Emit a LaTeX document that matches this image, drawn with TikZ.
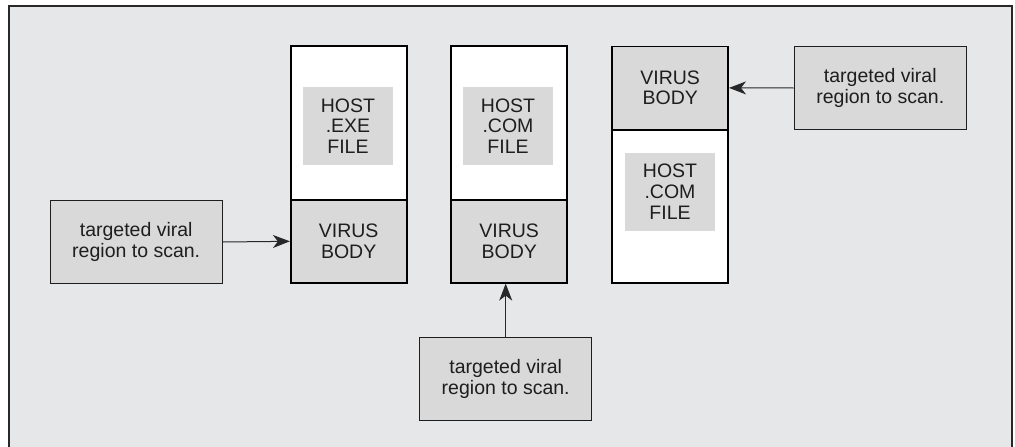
\documentclass[tikz,border=0pt]{standalone}
\usepackage{fontspec}
\setmainfont{Liberation Sans}
\usetikzlibrary{arrows.meta}
\begin{document}
\begin{tikzpicture}[x=1pt,y=-1pt]
    % Node styles
    \tikzstyle{none}=[inner sep=0mm]
    \tikzstyle{label text}=[font=\fontsize{19.5}{20.7}\selectfont, text={rgb,255: red,30; green,30; blue,30}, align=center, inner sep=0mm]
    \tikzstyle{scan box}=[label text, fill={rgb,255: red,217; green,217; blue,217}, draw={rgb,255: red,30; green,30; blue,30}, line width=1.3pt, shape=rectangle, minimum width=172pt, minimum height=83pt]
    \tikzstyle{body box}=[label text, fill={rgb,255: red,217; green,217; blue,217}, draw=black, line width=1.6pt, shape=rectangle, minimum width=116pt, minimum height=83pt]
    \tikzstyle{file box}=[fill=white, draw=black, line width=1.6pt, shape=rectangle, minimum width=116pt, minimum height=154pt]
    \tikzstyle{host box}=[label text, fill={rgb,255: red,217; green,217; blue,217}, shape=rectangle, minimum width=90pt, minimum height=78pt]
    % Edge styles
    \tikzstyle{arrow}=[-{Stealth[length=17pt,width=13pt,inset=5pt]}, line width=1pt, draw={rgb,255: red,40; green,40; blue,40}]

    \useasboundingbox (0,0) rectangle (1015,447);
    \clip (0,0) rectangle (1015,447);
    \draw [fill={rgb,255: red,230; green,231; blue,233}, draw={rgb,255: red,40; green,40; blue,40}, line width=1.3pt] (9,6) rectangle (1012,470);

    % .EXE host with appended virus
    \node [style=file box] (0) at (348.7, 123.2) {};
    \node [style=body box] (1) at (348.7, 241.3) {VIRUS\\BODY};
    \node [style=host box] (2) at (348, 126) {HOST\\.EXE\\FILE};

    % .COM host with appended virus
    \node [style=file box] (3) at (509.2, 123.2) {};
    \node [style=body box] (4) at (509.2, 241.3) {VIRUS\\BODY};
    \node [style=host box] (5) at (508, 126) {HOST\\.COM\\FILE};

    % .COM host with prepended virus
    \node [style=body box] (6) at (670.2, 87.9) {VIRUS\\BODY};
    \node [style=file box, minimum height=153pt] (7) at (670.2, 206.2) {};
    \node [style=host box] (8) at (670, 191.8) {HOST\\.COM\\FILE};

    \node [style=scan box] (9) at (136.2, 242) {targeted viral\\region to scan.};
    \node [style=scan box] (10) at (880.3, 88) {targeted viral\\region to scan.};
    \node [style=scan box] (11) at (505.7, 379) {targeted viral\\region to scan.};

    \draw [style=arrow] (9.east) to (1.west);
    \draw [style=arrow] (10.west) to (6.east);
    \draw [style=arrow] (11.north) to (11.north |- 4.south);
\end{tikzpicture}
\end{document}
